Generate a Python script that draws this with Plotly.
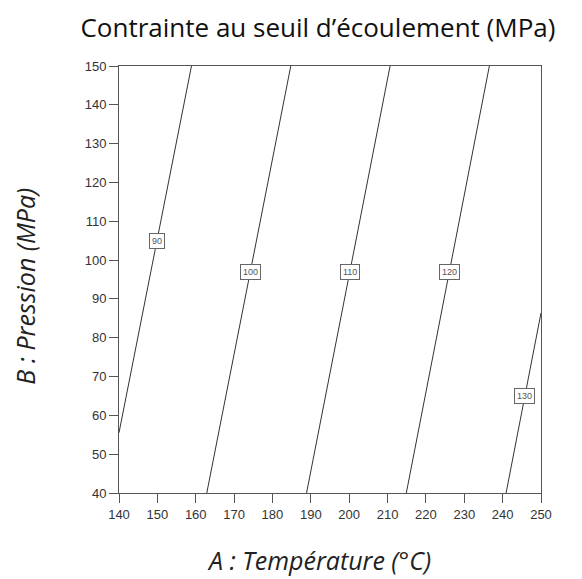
import plotly.graph_objects as go

# Grid corners (Temperature °C, Pressure MPa) and yield stress values
temperature = [140, 250]
pressure = [40, 150]
stress = [[91.2, 133.5],   # P = 40
          [82.7, 125.2]]   # P = 150
levels = [90, 100, 110, 120, 130]
label_pressure = [105, 97, 97, 97, 65]
x_ticks = [140, 150, 160, 170, 180, 190, 200, 210, 220, 230, 240, 250]
y_ticks = [40, 50, 60, 70, 80, 90, 100, 110, 120, 130, 140, 150]


def temp_at(level, p):
    f = (p - pressure[0]) / (pressure[1] - pressure[0])
    zl = stress[0][0] + (stress[1][0] - stress[0][0]) * f
    zr = stress[0][1] + (stress[1][1] - stress[0][1]) * f
    return temperature[0] + (level - zl) / (zr - zl) * (temperature[1] - temperature[0])


fig = go.Figure()
fig.add_trace(go.Contour(
    x=temperature, y=pressure, z=stress,
    contours=dict(start=90, end=130, size=10, coloring="lines", showlabels=False),
    colorscale=[[0, "#333333"], [1, "#333333"]],
    line=dict(width=1),
    showscale=False, hoverinfo="skip",
))

for lv, p in zip(levels, label_pressure):
    fig.add_annotation(
        x=temp_at(lv, p), y=p, text=str(lv), showarrow=False,
        font=dict(family="Liberation Sans", size=9, color="#555555"),
        bgcolor="white", bordercolor="#666666", borderwidth=1, borderpad=2,
    )

axis_common = dict(
    showgrid=False, zeroline=False, showline=True, linecolor="#555555", linewidth=1,
    mirror=True, ticks="outside", ticklen=9, tickcolor="#555555", automargin=False,
    tickfont=dict(family="Liberation Sans", size=13, color="#333333"),
)
fig.update_xaxes(range=[140, 250], tickvals=x_ticks, **axis_common)
fig.update_yaxes(range=[40, 150], tickvals=y_ticks, **axis_common)

title_font = dict(family="Open Sans", size=25, color="#222222")
fig.add_annotation(text="<i>A : Température (°C)</i>", xref="paper", yref="paper",
                   x=0.474, y=-0.157, xanchor="center", yanchor="middle",
                   showarrow=False, font=title_font)
fig.add_annotation(text="<i>B : Pression (MPa)</i>", xref="paper", yref="paper",
                   x=-0.223, y=0.485, xanchor="center", yanchor="middle",
                   textangle=-90, showarrow=False, font=title_font)

fig.update_layout(
    width=574, height=571,
    margin=dict(l=111, r=41, t=58, b=86),
    paper_bgcolor="white", plot_bgcolor="white",
    title=dict(text="Contrainte au seuil d’écoulement (MPa)", x=0.54, xanchor="center", y=0.966,
               yanchor="middle", font=dict(family="Open Sans", size=26, color="#111111")),
)

fig.write_html("out.html")
